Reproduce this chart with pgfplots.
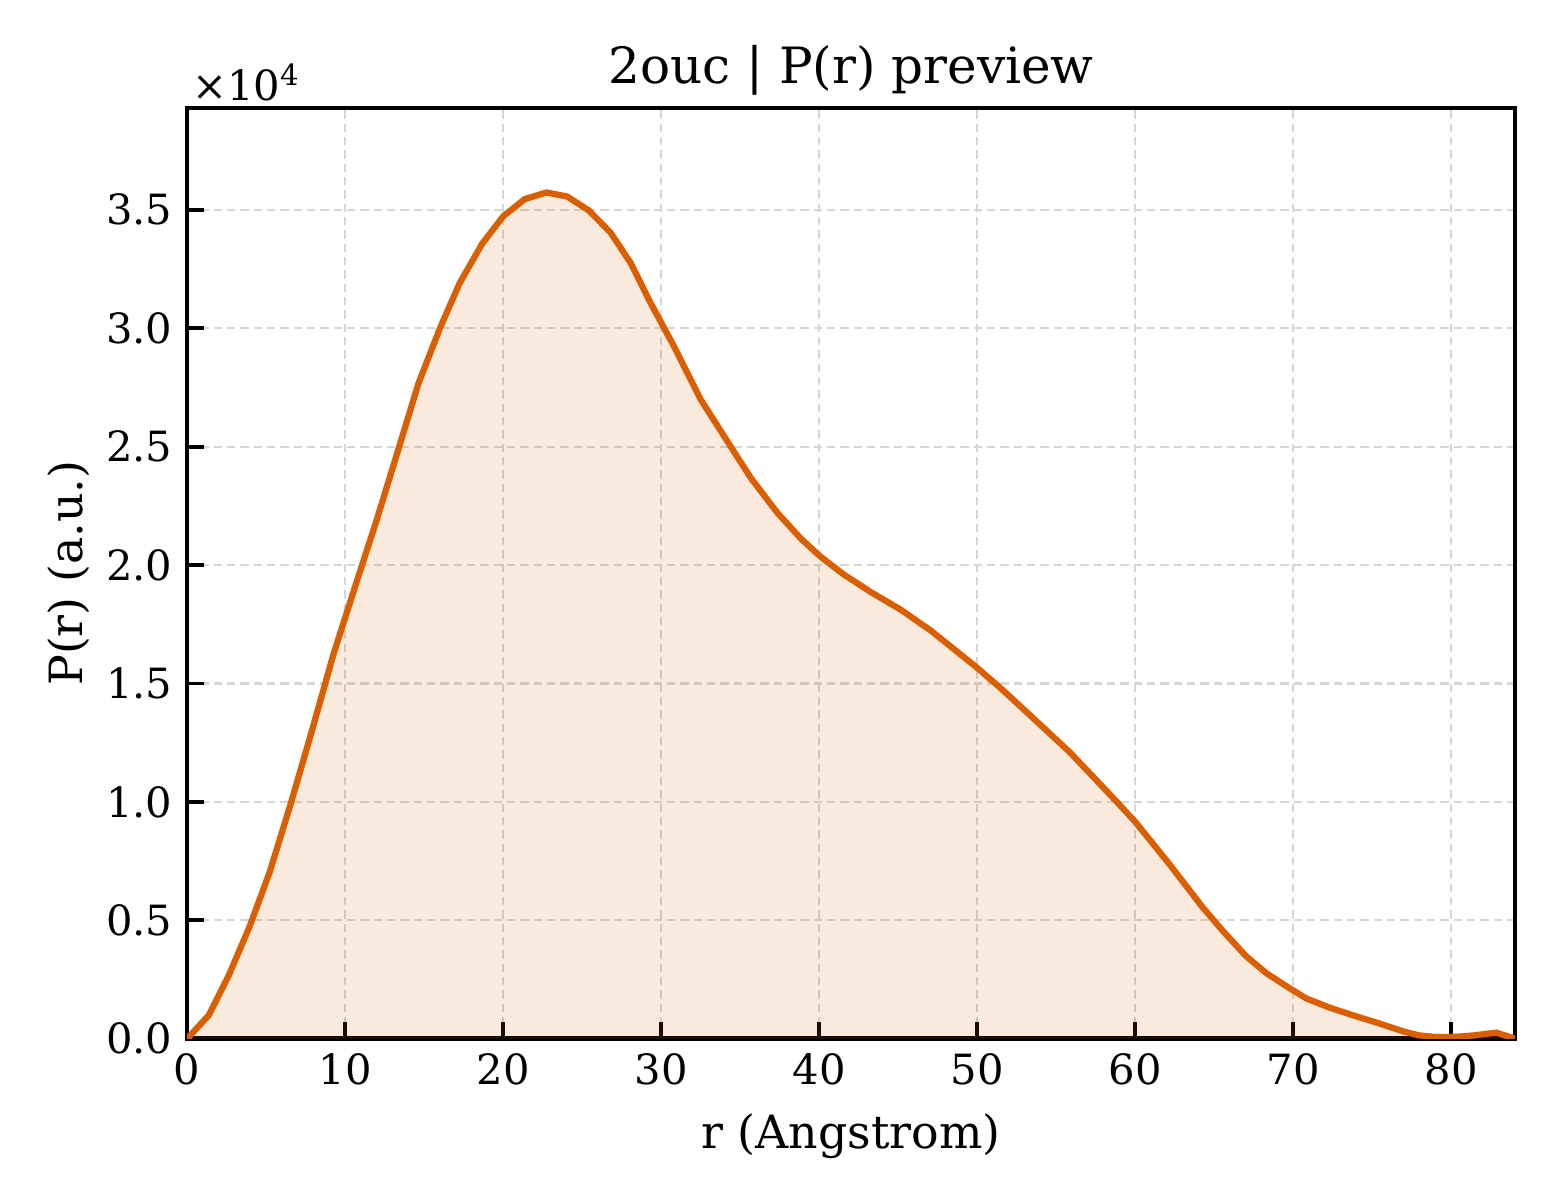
\documentclass[border=0pt]{standalone}
\usepackage{fontspec}
\setmainfont{DejaVu Serif}
\usepackage{pgfplots}
\usepackage{pgfplotstable}
\pgfplotsset{compat=1.18}

\definecolor{prline}{HTML}{D95F02}
\definecolor{gridc}{HTML}{D6D6D6}

% r (Angstrom), P(r)
\pgfplotstableread{
r P
0 0
1.38 1000
2.66 2710
3.94 4710
5.21 7000
6.55 9900
7.9 13000
9.25 16200
10.63 19080
12.0 21900
13.49 25140
14.65 27680
16.03 30040
17.25 31900
18.67 33560
20.0 34720
21.37 35450
22.75 35730
24.06 35560
25.43 34970
26.8 34040
28.08 32750
29.34 31060
30.82 29230
32.5 27000
34.6 24800
35.7 23660
37.37 22200
38.83 21130
40.05 20380
41.5 19630
43.3 18850
45.16 18120
47.1 17220
49.9 15720
51.5 14800
53.19 13760
55.87 12100
58.54 10220
60.0 9170
62.19 7360
64.29 5540
65.56 4550
67.04 3480
68.31 2770
69.79 2130
70.85 1700
72.33 1310
73.8 990
75.5 640
76.98 310
78.0 140
79.1 70
80.0 70
81.4 140
82.87 260
84.05 0
}\prdata

\begin{document}
\begin{tikzpicture}
\begin{axis}[
    name=ax,
    scale only axis,
    width=318.7pt,
    height=223.4pt,
    xmin=0, xmax=84.05,
    ymin=0, ymax=39300,
    xtick={0,10,...,80},
    ytick={0,5000,...,35000},
    scaled y ticks=base 10:-4,
    ytick scale label code/.code={×10\textsuperscript{4}},
    every y tick scale label/.style={at={(rel axis cs:0,1)}, anchor=south west,
        inner sep=0pt, xshift=1pt, yshift=1.5pt},
    y tick label style={/pgf/number format/fixed,
        /pgf/number format/fixed zerofill,
        /pgf/number format/precision=1},
    /pgf/number format/assume math mode=true,
    tick label style={font=\fontsize{10}{12}\selectfont},
    label style={font=\fontsize{11}{13}\selectfont},
    ylabel style={yshift=-3pt},
    title style={font=\fontsize{12}{14}\selectfont, yshift=-6.5pt},
    title={2ouc | P(r) preview},
    xlabel={r (Angstrom)},
    ylabel={P(r) (a.u.)},
    tick align=inside,
    xtick pos=left, ytick pos=left,
    major tick length=4pt,
    every tick/.style={black, line width=0.9pt},
    axis line style={line width=1.1pt},
    grid=major,
    major grid style={gridc, line width=0.5pt, dash pattern=on 2pt off 1.2pt},
]
\addplot[draw=none, fill=prline, fill opacity=0.13] table[x=r, y=P] {\prdata} \closedcycle;
\addplot[prline, line width=1.5pt] table[x=r, y=P] {\prdata};
\end{axis}
\pgfresetboundingbox
\path[use as bounding box] ([shift={(-44.9pt,-38.6pt)}]ax.south west) rectangle ([shift={(10.8pt,25.9pt)}]ax.north east);
\end{tikzpicture}
\end{document}
